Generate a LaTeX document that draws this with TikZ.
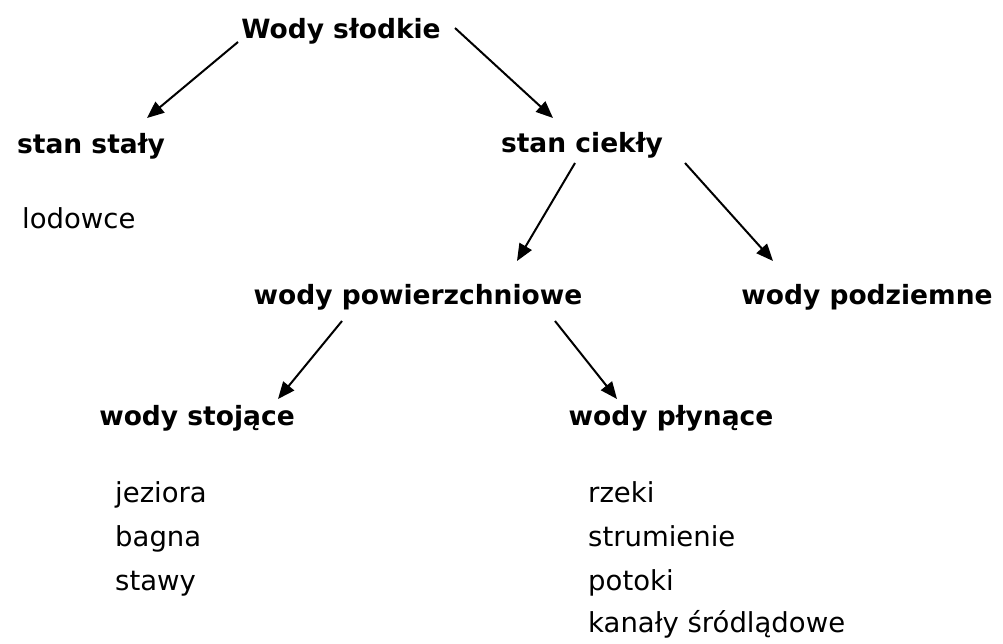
\documentclass[tikz,border=0pt]{standalone}
\usepackage{fontspec}
\setmainfont{DejaVu Sans}
\usetikzlibrary{arrows.meta}
\tikzset{
  head/.style={inner sep=0pt, anchor=base, font=\bfseries\fontsize{26.5}{30}\selectfont},
  item/.style={inner sep=0pt, anchor=base west, font=\fontsize{27.5}{30}\selectfont},
  arr/.style={line width=2pt, -{Triangle[length=17pt,width=14pt]}}
}
\begin{document}
\begin{tikzpicture}[x=1pt,y=-1pt]
\useasboundingbox (0,0) rectangle (1003,643);
% headings
\node[head] (ws) at (341,38) {Wody słodkie};
\node[head] (ss) at (91,153) {stan stały};
\node[head] (sc) at (582,152) {stan ciekły};
\node[head] (wpow) at (418,304) {wody powierzchniowe};
\node[head] (wpod) at (867,304) {wody podziemne};
\node[head] (wst) at (197,425) {wody stojące};
\node[head] (wpl) at (671,425) {wody płynące};
% items
\node[item] (lod) at (22,228) {lodowce};
\node[item] (jez) at (115,502) {jeziora};
\node[item] (bag) at (115,546) {bagna};
\node[item] (sta) at (115,590) {stawy};
\node[item] (rze) at (588,502) {rzeki};
\node[item] (str) at (588,546) {strumienie};
\node[item] (pot) at (588,590) {potoki};
\node[item] (kan) at (588,632) {kanały śródlądowe};
% connector end points
\coordinate (a1s) at (238,42);  \coordinate (a1e) at (147,118);
\coordinate (a2s) at (455,28);  \coordinate (a2e) at (553,118);
\coordinate (a3s) at (575,163); \coordinate (a3e) at (517,261);
\coordinate (a4s) at (685,163); \coordinate (a4e) at (773,261);
\coordinate (a5s) at (342,321); \coordinate (a5e) at (278,399);
\coordinate (a6s) at (555,321); \coordinate (a6e) at (617,399);
\draw[arr] (a1s) -- (a1e);
\draw[arr] (a2s) -- (a2e);
\draw[arr] (a3s) -- (a3e);
\draw[arr] (a4s) -- (a4e);
\draw[arr] (a5s) -- (a5e);
\draw[arr] (a6s) -- (a6e);
\end{tikzpicture}
\end{document}
